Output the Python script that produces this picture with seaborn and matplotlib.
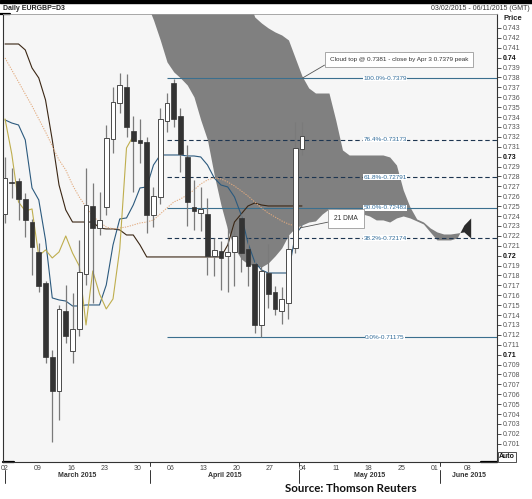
import numpy as np
import pandas as pd
import matplotlib
matplotlib.use("Agg")
import matplotlib.pyplot as plt
from matplotlib.patches import Rectangle
import seaborn as sns

# ---------------- data ----------------
open_ = [0.72421, 0.72744, 0.72755, 0.72573, 0.72340, 0.72037, 0.71724, 0.70977, 0.70633, 0.71441,
         0.71037, 0.71260, 0.71815, 0.72502, 0.72280, 0.72492, 0.73179, 0.73542, 0.73704, 0.73260,
         0.73169, 0.73149, 0.72411, 0.72593, 0.73361, 0.73744, 0.73411, 0.72997, 0.72492, 0.72431,
         0.72421, 0.71997, 0.72047, 0.71997, 0.72037, 0.72381, 0.72068, 0.71916, 0.71300, 0.71825,
         0.71633, 0.71441, 0.71522, 0.72078, 0.73078]
high = [0.72997, 0.72886, 0.72785, 0.72633, 0.72371, 0.72128, 0.71744, 0.71047, 0.71502, 0.71704,
        0.71623, 0.72159, 0.72886, 0.72734, 0.72643, 0.73320, 0.73704, 0.73845, 0.73835, 0.73411,
        0.73381, 0.73199, 0.72694, 0.73492, 0.73643, 0.73785, 0.73492, 0.73118, 0.72765, 0.72694,
        0.72583, 0.72179, 0.72148, 0.72290, 0.72300, 0.72421, 0.72179, 0.71957, 0.71896, 0.72118,
        0.71694, 0.71684, 0.72209, 0.73351, 0.73351]
low = [0.72330, 0.72583, 0.72361, 0.72189, 0.71805, 0.71633, 0.70916, 0.70118, 0.70340, 0.71118,
       0.70916, 0.71189, 0.71704, 0.71522, 0.72209, 0.72411, 0.73037, 0.73441, 0.73199, 0.72643,
       0.72936, 0.72229, 0.72290, 0.72522, 0.73249, 0.73300, 0.72845, 0.72300, 0.72260, 0.72249,
       0.71805, 0.71795, 0.71654, 0.71633, 0.71694, 0.71835, 0.71694, 0.71219, 0.71175, 0.71472,
       0.71401, 0.71310, 0.71361, 0.72027, 0.73017]
close = [0.72785, 0.72734, 0.72573, 0.72361, 0.72088, 0.71694, 0.70977, 0.70633, 0.71462, 0.71189,
         0.71260, 0.71835, 0.72512, 0.72280, 0.72361, 0.73189, 0.73553, 0.73724, 0.73300, 0.73159,
         0.73138, 0.72411, 0.72603, 0.73381, 0.73542, 0.73381, 0.73027, 0.72542, 0.72451, 0.72472,
         0.71997, 0.72058, 0.71977, 0.72037, 0.72199, 0.72027, 0.71896, 0.71300, 0.71845, 0.71613,
         0.71462, 0.71563, 0.72068, 0.73088, 0.73209]

tenkan = [0.73371, 0.73340, 0.73320, 0.73169, 0.72684, 0.72563, 0.72159, 0.71573, 0.71553, 0.71542,
          0.71492, 0.71492, 0.71502, 0.71502, 0.71502, 0.71704, 0.72108, 0.72371, 0.72381, 0.72512,
          0.72684, 0.72694, 0.72916, 0.73017, 0.73017, 0.73017, 0.73017, 0.73007, 0.73007, 0.72997,
          0.72916, 0.72785, 0.72714, 0.72694, 0.72593, 0.72411, 0.72128, 0.71936, 0.71856, 0.71825,
          0.71825, 0.71825, 0.71825, 0.72209, 0.72300]
kijun = [0.74138, 0.74138, 0.74138, 0.74078, 0.73896, 0.73795, 0.73573, 0.73169, 0.72714, 0.72462,
         0.72340, 0.72340, 0.72340, 0.72340, 0.72280, 0.72270, 0.72270, 0.72260, 0.72209, 0.72209,
         0.72108, 0.71987, 0.71987, 0.71987, 0.71987, 0.71987, 0.71987, 0.71987, 0.71987, 0.71987,
         0.71987, 0.71987, 0.71987, 0.72108, 0.72340, 0.72421, 0.72502, 0.72532, 0.72512, 0.72502,
         0.72502, 0.72502, 0.72502, 0.72502, 0.72502]
dma21 = [0.73997, 0.73876, 0.73755, 0.73633, 0.73512, 0.73381, 0.73250, 0.73108, 0.72967, 0.72866,
         0.72714, 0.72593, 0.72492, 0.72401, 0.72340, 0.72290, 0.72270, 0.72280, 0.72290, 0.72310,
         0.72330, 0.72340, 0.72361, 0.72421, 0.72482, 0.72542, 0.72573, 0.72613, 0.72664, 0.72724,
         0.72765, 0.72785, 0.72775, 0.72744, 0.72704, 0.72654, 0.72603, 0.72542, 0.72482, 0.72431,
         0.72391, 0.72351, 0.72320, 0.72300, 0.72290]
chikou_shift = 25

# cloud (senkou spans), starting at bar 21
cloud_start = 21
senkou_a = [0.74550, 0.74381, 0.74179, 0.73957, 0.73856, 0.73795, 0.73724, 0.73603, 0.73371, 0.73169,
            0.72815, 0.72512, 0.72260, 0.72078, 0.71967, 0.71916, 0.71896, 0.71886, 0.71926, 0.71997,
            0.72078, 0.72209, 0.72280, 0.72310, 0.72340, 0.72351, 0.72421, 0.72472, 0.72472, 0.72462,
            0.72441, 0.72441, 0.72421, 0.72401, 0.72361, 0.72361, 0.72340, 0.72381, 0.72401, 0.72381,
            0.72351, 0.72320, 0.72239, 0.72159, 0.72159, 0.72159, 0.72180, 0.72310, 0.72381]
senkou_b = [0.74600, 0.74600, 0.74600, 0.74600, 0.74600, 0.74600, 0.74600, 0.74600, 0.74600, 0.74600,
            0.74600, 0.74600, 0.74600, 0.74600, 0.74600, 0.74600, 0.74411, 0.74350, 0.74300, 0.74260,
            0.74229, 0.74179, 0.73997, 0.73815, 0.73694, 0.73643, 0.73643, 0.73643, 0.73371, 0.73068,
            0.73017, 0.73017, 0.73017, 0.73017, 0.73017, 0.73017, 0.72997, 0.72916, 0.72664, 0.72492,
            0.72371, 0.72340, 0.72280, 0.72240, 0.72219, 0.72219, 0.72229, 0.72240, 0.72179]

fib_pct = ['100.0%', '76.4%', '61.8%', '50.0%', '38.2%', '0.0%']
fib_val = [0.7379, 0.73173, 0.72791, 0.72483, 0.72174, 0.71175]
fib_txt = ['0.7379', '0.73173', '0.72791', '0.72483', '0.72174', '0.71175']
fib_start = 24

date_idx = [0, 5, 10, 15, 20, 25, 30, 35, 40, 45, 50, 55, 60, 65, 70]
date_lbl = ['02', '09', '16', '23', '30', '06', '13', '20', '27', '04', '11', '18', '25', '01', '08']
month_names = ['March 2015', 'April 2015', 'May 2015', 'June 2015']
month_bounds = [0, 21.5, 43.5, 64.5, 72.9]

# ---------------- styling ----------------
sns.set_theme(style="white")
plt.rcParams['font.family'] = ['Liberation Sans', 'DejaVu Sans']

W, H = 532, 499
fig = plt.figure(figsize=(W / 100, H / 100), dpi=100)
fig.patch.set_facecolor('white')
ax = fig.add_axes([3 / W, (H - 462) / H, (497 - 3) / W, (462 - 14) / H])
ax.set_facecolor('#f6f6f6')

XMIN, XMAX = -0.3, 72.9
YMIN, YMAX = 0.69916, 0.74441

o = np.array(open_); h = np.array(high); l = np.array(low); c = np.array(close)
idx = np.arange(len(c))

# cloud
ci = np.arange(cloud_start, cloud_start + len(senkou_a))
sa = np.array(senkou_a); sb = np.array(senkou_b)
ax.fill_between(ci, sa, sb, where=sb >= sa, interpolate=True, color='#808080', lw=0, zorder=1)
ax.fill_between(ci, sa, sb, where=sa > sb, interpolate=True, color='#2b2b2b', lw=0, zorder=1)

# fib levels
solid_style = ['-', '--', '--', '-', '--', '-']
for pct, val, txt, ls in zip(fib_pct, fib_val, fib_txt, solid_style):
    col = '#3b6f8e' if ls == '-' else '#1d3550'
    ax.hlines(val, fib_start, XMAX, color=col, lw=0.8, linestyles=ls if ls == '-' else (0, (4, 2.5)), zorder=2)
    ax.text(56.3, val, f"{pct}-{txt}", ha='center', va='center', fontsize=4.6, color='#2f6a98',
            bbox=dict(fc='white', ec='none', pad=0.3), zorder=6)

# indicator lines
sns.lineplot(x=idx, y=np.array(kijun), ax=ax, color='#3a2614', lw=0.8, zorder=3)
sns.lineplot(x=idx, y=np.array(tenkan), ax=ax, color='#2c5a7e', lw=0.8, zorder=3)
sns.lineplot(x=idx, y=np.array(dma21), ax=ax, color='#e2aa7e', lw=0.75, linestyle=(0, (1.2, 1.2)), zorder=3)
ch_x = idx[:len(c) - chikou_shift]
ch_y = c[chikou_shift:]
sns.lineplot(x=ch_x, y=ch_y, ax=ax, color='#bfae4e', lw=0.8, zorder=3)

# candles
up = c >= o
body_lo = np.minimum(o, c)
body_h = np.maximum(np.abs(c - o), 0.00008)
ax.vlines(idx, l, h, color='#7a7a7a', lw=0.9, zorder=4)
ax.bar(idx[up], body_h[up], bottom=body_lo[up], width=0.72, color='white',
       edgecolor='#4a4a4a', linewidth=0.7, zorder=5)
ax.bar(idx[~up], body_h[~up], bottom=body_lo[~up], width=0.72, color='#333333',
       edgecolor='#333333', linewidth=0.5, zorder=5)

# annotations
ax.annotate("Cloud top @ 0.7381 - close by Apr 3 0.7379 peak", xy=(44.1, 0.73795), xytext=(58.4, 0.73982),
            ha='center', va='center', fontsize=4.6, color='#333333',
            bbox=dict(boxstyle='square,pad=0.8', fc='white', ec='#9a9a9a', lw=0.6),
            arrowprops=dict(arrowstyle='-', color='#555555', lw=0.6, shrinkA=0, shrinkB=0, relpos=(0, 0)),
            zorder=7)
ax.annotate("21 DMA", xy=(43.7, 0.72280), xytext=(50.5, 0.72376),
            ha='center', va='center', fontsize=4.8, color='#333333',
            bbox=dict(boxstyle='square,pad=0.9', fc='white', ec='#9a9a9a', lw=0.6),
            arrowprops=dict(arrowstyle='-', color='#555555', lw=0.6, shrinkA=0, shrinkB=0, relpos=(0, 0.15)),
            zorder=7)

ax.set_xlim(XMIN, XMAX)
ax.set_ylim(YMIN, YMAX)
ax.set_xlabel('')
ax.set_ylabel('')

# y axis on the right
ax.yaxis.tick_right()
yt = np.round(np.arange(0.701, 0.7435, 0.001), 3)
ax.set_yticks(yt)
ylabels = []
for t in yt:
    major = abs(t * 100 - round(t * 100)) < 1e-6
    ylabels.append(f"{t:.2f}" if major else f"{t:.3f}")
ax.set_yticklabels(ylabels)
ax.tick_params(axis='y', direction='out', length=3, width=0.6, color='#333333', pad=1,
               labelsize=5, labelcolor='#555555', right=True, left=False)
for t, lab in zip(yt, ax.get_yticklabels()):
    if abs(t * 100 - round(t * 100)) < 1e-6:
        lab.set_fontweight('bold')
        lab.set_color('#111111')

# x axis
ax.set_xticks(np.array(date_idx) * 0.98)
ax.set_xticklabels(date_lbl)
ax.tick_params(axis='x', length=0, pad=2, labelsize=5, labelcolor='#444444', bottom=True)

trans = ax.get_xaxis_transform()
for i, name in enumerate(month_names):
    ax.text((month_bounds[i] + month_bounds[i + 1]) / 2, -0.031, name, transform=trans, ha='center',
            va='center', fontsize=5, fontweight='bold', color='#333333', clip_on=False)
for b in month_bounds[:-1]:
    ax.plot([b, b], [-0.018, -0.046], transform=trans, color='#333333', lw=0.7, clip_on=False)
for b in month_bounds[1:-1]:
    ax.plot([b, b], [0, -0.008], transform=trans, color='#333333', lw=0.7, clip_on=False)

for side in ['left', 'right', 'bottom']:
    ax.spines[side].set_color('#333333')
    ax.spines[side].set_linewidth(0.8)
ax.spines['top'].set_color('#9a9a9a')
ax.spines['top'].set_linewidth(0.6)

# corner accents
ax.plot([0, 0.023], [0, 0], transform=ax.transAxes, color='black', lw=1.6, clip_on=False)
ax.plot([0.967, 1.0], [0, 0], transform=ax.transAxes, color='black', lw=1.6, clip_on=False)
ax.plot([-0.006, 0.015], [1, 1], transform=ax.transAxes, color='black', lw=1.6, clip_on=False)

# header and footer texts
fig.patches.append(Rectangle((0, 1 - 3 / H), 1, 3 / H, transform=fig.transFigure, color='black', zorder=0))
fig.text(3 / W, 1 - 8 / H, "Daily EURGBP=D3", fontsize=5, fontweight='bold', color='#222222',
         ha='left', va='center')
fig.text(530 / W, 1 - 8 / H, "03/02/2015 - 06/11/2015 (GMT)", fontsize=5, color='#333333',
         ha='right', va='center')
fig.text(503 / W, 1 - 19 / H, "Price", fontsize=5.5, fontweight='bold', color='#222222',
         ha='left', va='center')
fig.text(499 / W, 1 - 457 / H, "Auto", fontsize=5, fontweight='bold', color='#111111', ha='left',
         va='center', bbox=dict(fc='white', ec='#333333', lw=0.6, pad=0.8))
fig.text(351 / W, 1 - 488 / H, "Source: Thomson Reuters", fontsize=8.3, fontweight='bold',
         family=['Lato', 'DejaVu Sans'], color='#111111', ha='center', va='center')

fig.savefig('out.png', dpi=100)
